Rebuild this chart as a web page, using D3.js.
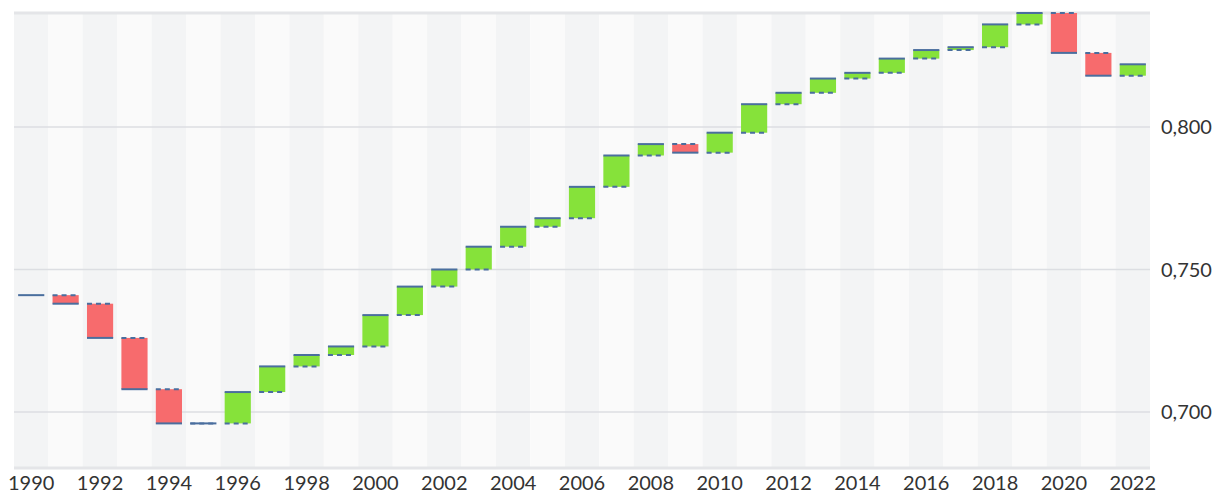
<!DOCTYPE html>
<html>
<head>
<meta charset="utf-8">
<script src="https://cdn.jsdelivr.net/npm/d3@7"></script>
<style>
  body { margin: 0; background: #fff; }
  text { font-family: Lato, "Open Sans", sans-serif; fill: #333; }
</style>
</head>
<body>
<div id="gr"></div>
<script>
var years = [1990, 1991, 1992, 1993, 1994, 1995, 1996, 1997, 1998, 1999,
  2000, 2001, 2002, 2003, 2004, 2005, 2006, 2007, 2008, 2009,
  2010, 2011, 2012, 2013, 2014, 2015, 2016, 2017, 2018, 2019,
  2020, 2021, 2022];
var values = [0.741, 0.738, 0.726, 0.708, 0.696, 0.696, 0.707, 0.716, 0.720, 0.723,
  0.734, 0.744, 0.750, 0.758, 0.765, 0.768, 0.779, 0.790, 0.794, 0.791,
  0.798, 0.808, 0.812, 0.817, 0.819, 0.824, 0.827, 0.828, 0.836, 0.840,
  0.826, 0.818, 0.822];
var yTicks = [0.700, 0.750, 0.800];
var xLabelYears = years.filter(function (d) { return d % 2 === 0; });

var width = 1220, height = 493;
var plot = { left: 14, right: 1150, top: 13, bottom: 469 };

var svg = d3.select("#gr").append("svg")
  .attr("width", width)
  .attr("height", height);

var xScale = d3.scaleBand()
  .domain(years)
  .range([plot.left, plot.right])
  .paddingInner(0)
  .paddingOuter(0);

var yScale = d3.scaleLinear()
  .domain([0.68, 0.84])
  .range([plot.bottom, plot.top]);

// alternating background bands
svg.append("g").selectAll("rect")
  .data(years)
  .enter().append("rect")
  .attr("x", function (d) { return xScale(d); })
  .attr("y", plot.top)
  .attr("width", xScale.bandwidth())
  .attr("height", plot.bottom - plot.top)
  .attr("fill", function (d, i) { return i % 2 === 0 ? "#f3f4f5" : "#fafafa"; });

// gridlines
svg.append("g").selectAll("line")
  .data(yTicks)
  .enter().append("line")
  .attr("x1", plot.left)
  .attr("x2", plot.right)
  .attr("y1", function (d) { return yScale(d); })
  .attr("y2", function (d) { return yScale(d); })
  .attr("stroke", "#dcdee2")
  .attr("stroke-width", 1.5);

svg.append("line")
  .attr("x1", plot.left).attr("x2", plot.right)
  .attr("y1", plot.top).attr("y2", plot.top)
  .attr("stroke", "#e4e5e8").attr("stroke-width", 3);

svg.append("line")
  .attr("x1", plot.left).attr("x2", plot.right)
  .attr("y1", plot.bottom - 1).attr("y2", plot.bottom - 1)
  .attr("stroke", "#e4e5e8").attr("stroke-width", 3);

// waterfall steps
var steps = years.map(function (y, i) {
  return { year: y, prev: i === 0 ? values[0] : values[i - 1], cur: values[i] };
});

var barW = xScale.bandwidth() * 0.76;
var bars = svg.append("g").selectAll("g")
  .data(steps)
  .enter().append("g")
  .attr("transform", function (d) {
    return "translate(" + (xScale(d.year) + (xScale.bandwidth() - barW) / 2) + ",0)";
  });

bars.append("rect")
  .attr("y", function (d) { return yScale(Math.max(d.prev, d.cur)); })
  .attr("width", barW)
  .attr("height", function (d) { return Math.abs(yScale(d.prev) - yScale(d.cur)); })
  .attr("fill", function (d) { return d.cur >= d.prev ? "#86e23a" : "#f76b6d"; });

bars.filter(function (d, i) { return i > 0; }).append("line")
  .attr("x1", 0).attr("x2", barW)
  .attr("y1", function (d) { return yScale(d.prev); })
  .attr("y2", function (d) { return yScale(d.prev); })
  .attr("stroke", "#4a6e9e")
  .attr("stroke-width", 2)
  .attr("stroke-dasharray", "5,4");

bars.append("line")
  .attr("x1", 0).attr("x2", barW)
  .attr("y1", function (d) { return yScale(d.cur); })
  .attr("y2", function (d) { return yScale(d.cur); })
  .attr("stroke", "#4a6e9e")
  .attr("stroke-width", 2);

// y labels
var fmt = function (d) { return d3.format(".3f")(d).replace(".", ","); };
svg.append("g").selectAll("text")
  .data(yTicks)
  .enter().append("text")
  .attr("x", 1161)
  .attr("y", function (d) { return yScale(d); })
  .attr("dy", "0.35em")
  .style("font-size", "20px")
  .text(fmt);

// x labels
svg.append("g").selectAll("text")
  .data(xLabelYears)
  .enter().append("text")
  .attr("x", function (d) { return xScale(d) + xScale.bandwidth() / 2; })
  .attr("y", 490)
  .attr("text-anchor", "middle")
  .style("font-size", "20px")
  .text(function (d) { return d; });
</script>
</body>
</html>
